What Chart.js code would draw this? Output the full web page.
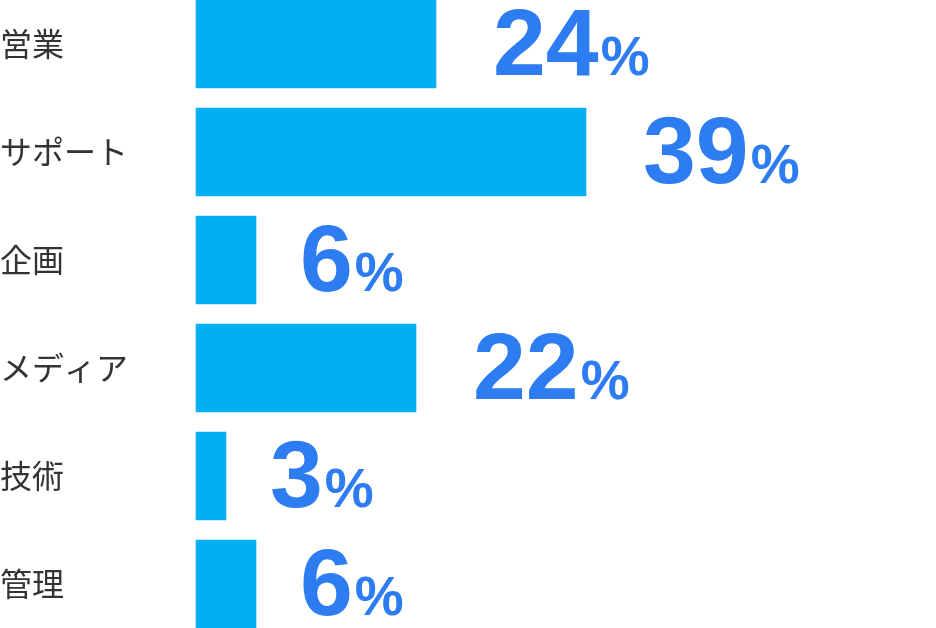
<!DOCTYPE html>
<html>
<head>
<meta charset="utf-8">
<script src="https://cdn.jsdelivr.net/npm/chart.js@4"></script>
<style>
  html, body { margin: 0; padding: 0; background: #fff; }
  #wrap { width: 936px; height: 628px; }
</style>
</head>
<body>
<div id="wrap"><canvas id="chart"></canvas></div>
<script>
const categories = ["営業", "サポート", "企画", "メディア", "技術", "管理"];
const shares = [24, 39, 6, 22, 3, 6];

const BAR_COLOR = "#00b0f0";
const VALUE_COLOR = "#2d7cf2";

// draw the big "24%" labels right of each bar
const valueLabels = {
  id: "valueLabels",
  afterDatasetsDraw(chart) {
    const ctx = chart.ctx;
    const meta = chart.getDatasetMeta(0);
    ctx.save();
    ctx.fillStyle = VALUE_COLOR;
    ctx.textBaseline = "alphabetic";
    ctx.textAlign = "left";
    meta.data.forEach((bar, i) => {
      const num = String(shares[i]);
      const x = bar.x + (num.length > 1 ? 57 : 44);
      const y = bar.y + 31;
      ctx.font = "bold 95px 'Liberation Sans', Arial, sans-serif";
      ctx.fillText(num, x, y);
      const w = ctx.measureText(num).width;
      ctx.font = "bold 55px 'Liberation Sans', Arial, sans-serif";
      ctx.fillText("%", x + w + 2, y);
    });
    ctx.restore();
  }
};

new Chart(document.getElementById("chart"), {
  type: "bar",
  data: {
    labels: categories,
    datasets: [{
      data: shares,
      backgroundColor: BAR_COLOR,
      barThickness: 88,
      clip: false
    }]
  },
  options: {
    indexAxis: "y",
    responsive: true,
    maintainAspectRatio: false,
    animation: false,
    layout: { padding: { top: 44, bottom: 44, left: 0, right: 0 } },
    plugins: { legend: { display: false }, tooltip: { enabled: false } },
    scales: {
      x: { display: false, min: 0, max: 74 },
      y: {
        offset: false,
        grid: { display: false },
        border: { display: false },
        afterFit(scale) { scale.width = 196; },
        ticks: {
          crossAlign: "far",
          padding: 0,
          color: "#333",
          font: { size: 32, family: "'Noto Sans CJK JP', sans-serif" }
        }
      }
    }
  },
  plugins: [valueLabels]
});
</script>
</body>
</html>
